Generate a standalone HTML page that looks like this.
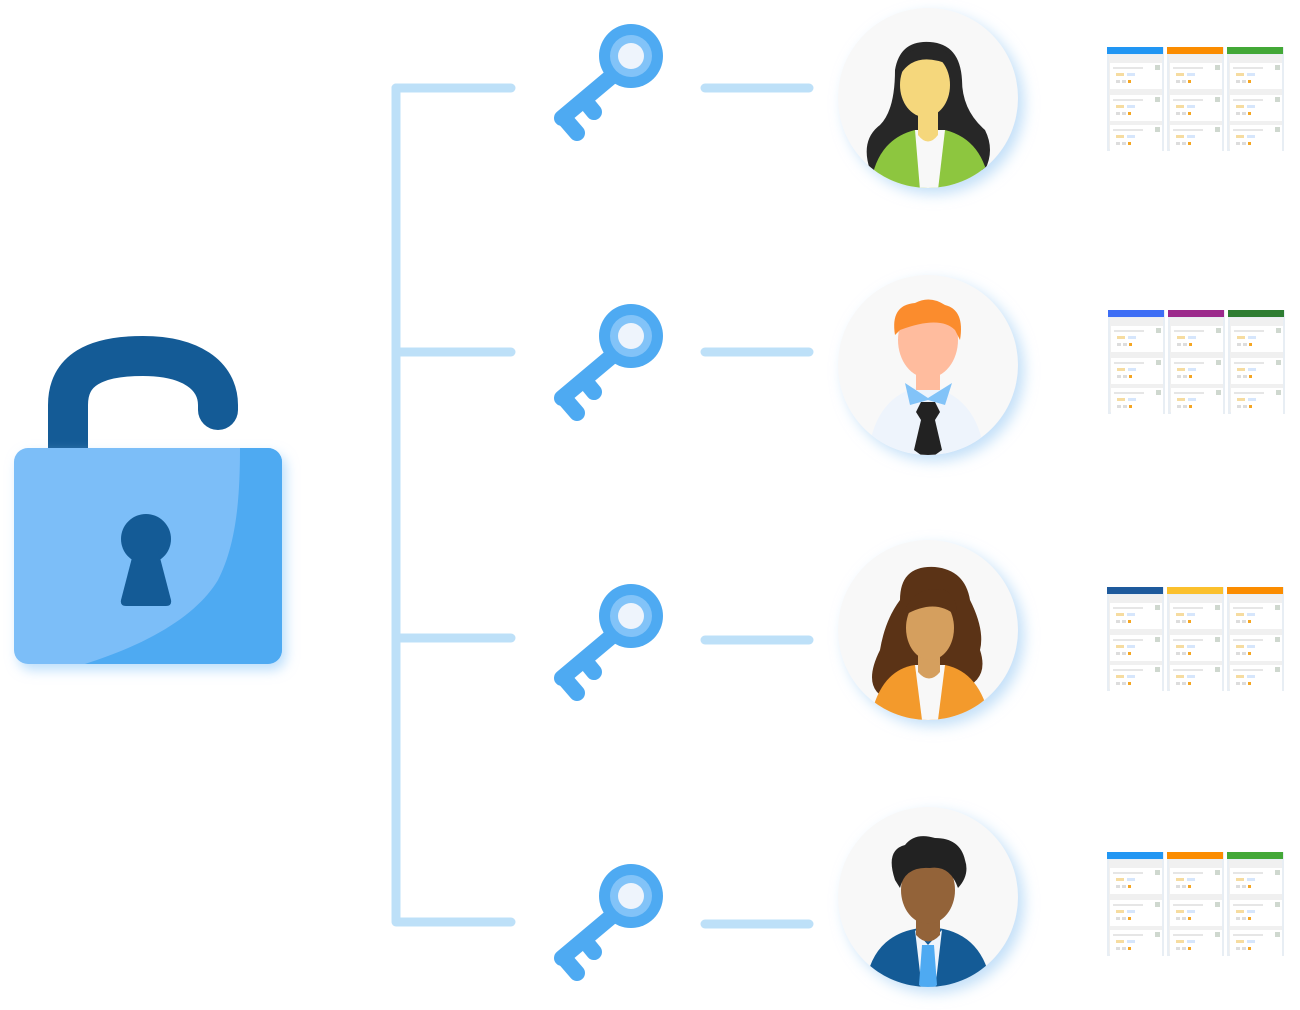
<!DOCTYPE html>
<html><head><meta charset="utf-8"><style>html,body{margin:0;padding:0;background:#fff;width:1300px;height:1010px;overflow:hidden}</style></head>
<body>
<svg width="1300" height="1010" viewBox="0 0 1300 1010" xmlns="http://www.w3.org/2000/svg">
<defs>
<filter id="sh" x="-30%" y="-30%" width="160%" height="160%"><feDropShadow dx="4" dy="6" stdDeviation="6" flood-color="#9fd0fa" flood-opacity="0.7"/></filter>
<filter id="sh2" x="-30%" y="-30%" width="160%" height="160%"><feDropShadow dx="6" dy="6" stdDeviation="7" flood-color="#a9d2f5" flood-opacity="0.7"/></filter>
<g id="key">
 <g stroke="#4eaaf2" stroke-width="16" stroke-linecap="round" fill="none">
  <line x1="612" y1="76" x2="562" y2="118"/>
  <line x1="564" y1="118" x2="577" y2="133"/>
  <line x1="585" y1="101" x2="594" y2="112"/>
 </g>
 <circle cx="631" cy="56" r="32" fill="#4eaaf2"/>
 <circle cx="631" cy="56" r="21" fill="#82c3f8"/>
 <circle cx="631" cy="56" r="13" fill="#eef4fc"/>
</g>
<g id="card">
 <rect x="0" y="0" width="52" height="26" fill="#fff"/>
 <rect x="3" y="4" width="30" height="2" fill="#e6e6e6"/>
 <rect x="6" y="10" width="8" height="3" fill="#f6dca0"/><rect x="17" y="10" width="8" height="3" fill="#d6e6fc"/>
 <rect x="6" y="17" width="4" height="3" fill="#ddd"/><rect x="12" y="17" width="4" height="3" fill="#ddd"/><rect x="18" y="17" width="3" height="3" fill="#f5a623"/>
 <rect x="45" y="2" width="5" height="5" fill="#cfd8cf"/>
</g>
<g id="col">
 <rect x="0" y="0" width="57" height="104" fill="#e8eef4"/>
 <rect x="2" y="8" width="53" height="94" fill="#f0f0f0"/>
 <use href="#card" x="3" y="16"/><use href="#card" x="3" y="48"/><use href="#card" x="3" y="78"/>
</g>
</defs>

<!-- lock -->
<path d="M68 450 V405 C68 370 95 356 143 356 C190 356 218 375 218 405 V410" fill="none" stroke="#145b96" stroke-width="40" stroke-linecap="round"/>
<g filter="url(#sh)">
<rect x="14" y="448" width="268" height="216" rx="14" fill="#7bbef8"/>
</g>
<path d="M240 448 H268 A14 14 0 0 1 282 462 V650 A14 14 0 0 1 268 664 H85 C160 640 200 610 218 580 C236 545 240 500 240 448 Z" fill="#4eaaf2"/>
<circle cx="146" cy="539" r="25" fill="#145b96"/>
<path d="M134 550 L158 550 L171 600 Q172 606 166 606 L126 606 Q120 606 121 600 Z" fill="#145b96"/>

<!-- bracket -->
<g stroke="#bde0f8" stroke-width="9" stroke-linecap="round" fill="none">
 <line x1="396" y1="88" x2="396" y2="920"/>
 <line x1="396" y1="88" x2="511" y2="88"/>
 <line x1="396" y1="352" x2="511" y2="352"/>
 <line x1="396" y1="638" x2="511" y2="638"/>
 <line x1="396" y1="922" x2="511" y2="922"/>
 <line x1="705" y1="88" x2="809" y2="88"/>
 <line x1="705" y1="352" x2="809" y2="352"/>
 <line x1="705" y1="640" x2="809" y2="640"/>
 <line x1="705" y1="924" x2="809" y2="924"/>
</g>

<use href="#key"/><use href="#key" y="280"/><use href="#key" y="560"/><use href="#key" y="840"/>

<!-- avatars -->
<defs>
<clipPath id="c1"><circle cx="928" cy="98" r="90"/></clipPath>
<clipPath id="c2"><circle cx="928" cy="365" r="90"/></clipPath>
<clipPath id="c3"><circle cx="928" cy="630" r="90"/></clipPath>
<clipPath id="c4"><circle cx="928" cy="897" r="90"/></clipPath>
</defs>
<g filter="url(#sh2)">
<circle cx="928" cy="98" r="90" fill="#f8f8f8"/>
<circle cx="928" cy="365" r="90" fill="#f8f8f8"/>
<circle cx="928" cy="630" r="90" fill="#f8f8f8"/>
<circle cx="928" cy="897" r="90" fill="#f8f8f8"/>
</g>
<g clip-path="url(#c1)">
 <path d="M895 70 Q900 40 930 42 Q960 44 962 80 Q962 110 985 130 Q995 150 985 170 L870 170 Q860 140 880 125 Q895 110 895 70 Z" fill="#272727"/>
 <path d="M870 190 Q875 140 915 130 L945 130 Q985 140 990 190 Z" fill="#8dc63f"/>
 <path d="M915 130 L945 130 L938 190 L920 190 Z" fill="#f8f8f8"/>
 <path d="M918 110 L938 110 L938 135 Q928 148 918 135 Z" fill="#f5d77c"/>
 <ellipse cx="925" cy="85" rx="25" ry="32" fill="#f5d77c"/>
 <path d="M900 75 Q915 50 950 65 L950 55 Q930 38 905 55 Z" fill="#272727"/>
</g>
<g clip-path="url(#c2)">
 <path d="M868 460 Q872 395 925 385 Q980 395 985 460 Z" fill="#eef4fc"/>
 <path d="M905 383 L928 398 L952 383 L945 405 L928 400 L910 405 Z" fill="#82c3f8"/>
 <path d="M921 402 L935 402 L940 412 L935 420 L942 450 L928 460 L914 450 L921 420 L916 412 Z" fill="#222"/>
 <rect x="916" y="365" width="24" height="25" fill="#ffbc9e"/>
 <ellipse cx="928" cy="340" rx="30" ry="38" fill="#ffbc9e"/>
 <path d="M895 335 Q890 305 915 303 Q930 295 945 305 Q965 310 960 340 L955 330 Q940 315 900 330 Z" fill="#fb8c2d"/>
</g>
<g clip-path="url(#c3)">
 <path d="M900 600 Q900 565 935 567 Q965 570 970 600 Q985 630 980 650 Q990 680 960 690 L890 700 Q860 690 880 650 Q885 620 900 600 Z" fill="#5b3316"/>
 <path d="M870 720 Q880 670 915 665 L945 665 Q980 672 990 720 Z" fill="#f39a2c"/>
 <path d="M915 665 L945 665 L938 720 L922 720 Z" fill="#f8f8f8"/>
 <path d="M918 645 L940 645 L940 672 Q929 685 918 672 Z" fill="#d59f5e"/>
 <ellipse cx="930" cy="628" rx="24" ry="32" fill="#d59f5e"/>
 <path d="M905 610 Q915 585 945 590 Q960 600 955 615 Q935 598 905 615 Z" fill="#5b3316"/>
</g>
<g clip-path="url(#c4)">
 <path d="M865 990 Q870 935 920 928 L938 928 Q985 935 992 990 Z" fill="#145b96"/>
 <path d="M915 930 L928 945 L942 930 L935 990 L922 990 Z" fill="#eef4fc"/>
 <path d="M922 945 L934 945 L937 985 L928 992 L919 985 Z" fill="#4eaaf2"/>
 <path d="M916 912 L940 912 L940 935 Q928 948 916 935 Z" fill="#936339"/>
 <ellipse cx="928" cy="890" rx="27" ry="34" fill="#936339"/>
 <path d="M895 880 Q885 850 905 845 Q915 832 935 838 Q960 838 965 860 Q970 875 958 888 Q950 865 930 868 Q905 866 900 888 Z" fill="#222"/>
</g>

<!-- panels -->
<g transform="translate(1107,47)">
 <use href="#col"/><rect x="0" y="0" width="56" height="7" fill="#2196f3"/>
 <use href="#col" x="60"/><rect x="60" y="0" width="56" height="7" fill="#fb8c00"/>
 <use href="#col" x="120"/><rect x="120" y="0" width="56" height="7" fill="#43a837"/>
</g>
<g transform="translate(1108,310)">
 <use href="#col"/><rect x="0" y="0" width="56" height="7" fill="#3d6ef5"/>
 <use href="#col" x="60"/><rect x="60" y="0" width="56" height="7" fill="#9c2a8c"/>
 <use href="#col" x="120"/><rect x="120" y="0" width="56" height="7" fill="#2e7d32"/>
</g>
<g transform="translate(1107,587)">
 <use href="#col"/><rect x="0" y="0" width="56" height="7" fill="#1e5a9c"/>
 <use href="#col" x="60"/><rect x="60" y="0" width="56" height="7" fill="#fbc02d"/>
 <use href="#col" x="120"/><rect x="120" y="0" width="56" height="7" fill="#fb8c00"/>
</g>
<g transform="translate(1107,852)">
 <use href="#col"/><rect x="0" y="0" width="56" height="7" fill="#2196f3"/>
 <use href="#col" x="60"/><rect x="60" y="0" width="56" height="7" fill="#fb8c00"/>
 <use href="#col" x="120"/><rect x="120" y="0" width="56" height="7" fill="#43a837"/>
</g>
</svg>
</body></html>
